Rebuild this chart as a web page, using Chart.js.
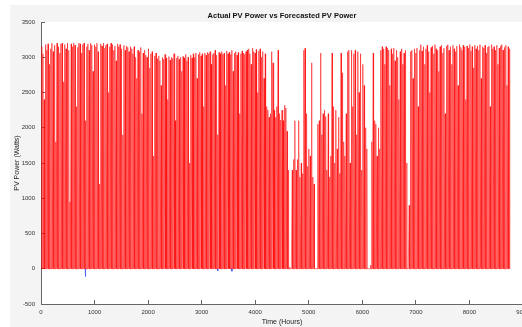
<!DOCTYPE html>
<html>
<head>
<meta charset="utf-8">
<script src="https://cdn.jsdelivr.net/npm/chart.js@4.4.1/dist/chart.umd.min.js"></script>
<style>
  html, body { margin: 0; padding: 0; background: #fff; overflow: hidden; width: 522px; height: 327px; }
  #wrap { position: absolute; left: 0; top: 0; width: 534px; height: 327px; }
</style>
</head>
<body>
<div id="wrap"><canvas id="myChart" width="534" height="327"></canvas></div>
<script>
// daily peak of actual PV power (W), one value per day
const dailyPeak = [
  3150, 3050, 2400, 3180, 3100, 3190, 2900, 3120, 3200, 3080,
  3170, 1800, 3200, 3150, 3060, 3190, 3200, 2650, 3180, 3120,
  3200, 3100, 950, 3190, 3150, 3200, 3170, 2300, 3140, 3200,
  3190, 3060, 3180, 3200, 2100, 3150, 3190, 3100, 3200, 3170,
  2800, 3180, 3150, 3200, 3080, 1200, 3190, 3160, 3200, 3130,
  3170, 3190, 2500, 3150, 3200, 3180, 3100, 3160, 2950, 3190,
  3150, 3180, 3120, 1900, 3170, 3100, 3160, 3140, 3080, 3150,
  3120, 3050, 3150, 3000, 2700, 3100, 3080, 3140, 2200, 3060,
  3100, 3030, 3000, 3120, 2850, 3050, 3080, 1600, 3020, 3060,
  2980, 3020, 2950, 2600, 3000, 2970, 3040, 2990, 2400, 3010,
  2960, 3000, 2980, 3050, 2100, 2990, 3020, 2970, 3000, 2800,
  3010, 2990, 3040, 2950, 3000, 1500, 3030, 2990, 3050, 3000,
  3060, 2700, 3040, 3070, 3020, 3050, 2300, 3060, 3030, 3070,
  3050, 3080, 2900, 3040, 3060, 3100, 3030, 1900, 3070, 3050,
  3080, 3040, 3060, 2600, 3090, 3050, 3070, 3040, 3100, 2800,
  3060, 3080, 3030, 3070, 2200, 3050, 3090, 3060, 3040, 3080,
  3100, 3120, 3050, 2900, 3130, 3080, 3060, 3110, 2500, 3090,
  3120, 3000, 3080, 2700, 3050,
  2300, 2250, 2150, 2200, 3080,
  2920, 2250, 2150, 2300, 3100,
  2200, 2110, 2250, 2100, 2320, 2280,
  1950, 1400, 20, 0, 1400,
  1550, 2100, 1400, 1550, 2100, 1300, 1500, 1350,
  3100, 3130, 2200, 1450, 1700, 1600, 2920,
  1300, 1200, 0, 0,
  2050, 2100, 3060, 1900,
  2200, 2250, 2160, 1400, 2200, 1300, 1600, 3060,
  2300, 1500, 2250, 1700, 2150, 1350,
  3060, 2780, 1800, 1600, 2200, 3080, 3100,
  1500, 3100, 2300, 3050, 3100, 1900, 3080, 2500, 3050, 1400, 2900, 2600,
  2000, 1700, 0, 0, 50, 1800,
  3060, 2100, 2050, 1600, 2000, 1700,
  3100, 3150, 3120, 2900, 3150, 3130, 3100, 2600, 3120,
  3050, 3130, 2950, 3100, 3000, 2400, 3080, 3120, 2900, 3060, 3100, 1500,
  0, 900,
  3080, 3100, 2700, 3120, 3060, 3130, 2300, 3100, 3180, 3090,
  3150, 2900, 3120, 3170, 3080, 2500, 3140, 3160, 3050, 3180,
  3120, 3100, 2800, 3150, 3170, 3060, 3130, 2200, 3160, 3180,
  3100, 3150, 2900, 3170, 3120, 3080, 3160, 2600, 3180, 3140,
  3100, 3170, 3150, 2400, 3160, 3130, 3180, 3090, 3150, 2850,
  3170, 3120, 3160, 3100, 3180, 2700, 3150, 3130, 3170, 3060,
  3140, 3160, 2300, 3180, 3120, 3150, 3100, 3170, 2900, 3130,
  3160, 3180, 3100, 3140, 3170, 2600, 3150, 3120
];

// forecast values that show below zero (hour, watts)
const forecastDips = [[830, -110], [3300, -30], [3565, -35]];

const yTicks = [-500, 0, 500, 1000, 1500, 2000, 2500, 3000, 3500];
const xTicks = [0, 1000, 2000, 3000, 4000, 5000, 6000, 7000, 8000, 9000];

// each day: dark at night, peak around noon
const actual = [];
dailyPeak.forEach(function (p, d) {
  actual.push({ x: d * 24 + 6, y: 0 }, { x: d * 24 + 12, y: p }, { x: d * 24 + 18, y: 0 });
});

const forecast = [];
forecastDips.forEach(function (f) {
  forecast.push({ x: f[0] - 5, y: 0 }, { x: f[0], y: f[1] }, { x: f[0] + 5, y: 0 }, { x: f[0] + 6, y: null });
});

const figureBg = {
  id: 'figureBg',
  beforeDraw: function (chart) {
    const c = chart.ctx, a = chart.chartArea;
    c.save();
    c.fillStyle = '#ffffff';
    c.fillRect(0, 0, chart.width, chart.height);
    c.fillStyle = '#f4f4f4';
    c.fillRect(10, 5, chart.width - 10, chart.height - 5);
    c.fillStyle = '#ffffff';
    c.fillRect(a.left, a.top, a.right - a.left, a.bottom - a.top);
    c.restore();
  }
};

function noPad(s) {
  s.paddingLeft = 0;
  s.paddingRight = 0;
  s.paddingTop = 0;
  s.paddingBottom = 0;
}

const ctx = document.getElementById('myChart').getContext('2d');
const myChart = new Chart(ctx, {
  type: 'line',
  data: {
    datasets: [{
      label: 'Actual PV Power',
      data: actual,
      borderColor: 'rgba(255, 0, 0, 0.75)',
      borderWidth: 0.7,
      pointRadius: 0,
      tension: 0
    }, {
      label: 'Forecasted PV Power',
      data: forecast,
      borderColor: 'rgba(60, 90, 255, 1)',
      borderWidth: 0.8,
      pointRadius: 0,
      tension: 0,
      spanGaps: false
    }]
  },
  options: {
    responsive: false,
    animation: false,
    parsing: false,
    layout: { padding: { left: 0, right: 11, top: 0, bottom: 0 } },
    plugins: {
      legend: { display: false },
      tooltip: { enabled: false },
      title: {
        display: true,
        fullSize: false,
        text: 'Actual PV Power vs Forecasted PV Power',
        color: '#111',
        font: { family: 'Liberation Sans', size: 7.5, weight: 'bold', lineHeight: 1 },
        padding: { top: 12.5, bottom: 2 }
      }
    },
    scales: {
      x: {
        type: 'linear',
        min: 0,
        max: 9000,
        afterBuildTicks: function (s) { s.ticks = xTicks.map(function (v) { return { value: v }; }); },
        afterFit: function (s) { s.height = 23; noPad(s); },
        border: { display: true, color: '#666', width: 1 },
        grid: { drawOnChartArea: false, tickLength: -4, color: '#666' },
        ticks: {
          padding: 9, color: '#333', maxRotation: 0, autoSkip: false,
          font: { family: 'Liberation Sans', size: 6 },
          callback: function (v) { return String(v); }
        },
        title: {
          display: true,
          text: 'Time (Hours)',
          color: '#222',
          font: { family: 'Liberation Sans', size: 7, lineHeight: 1 },
          padding: { top: 0, bottom: 1 }
        }
      },
      y: {
        min: -500,
        max: 3500,
        afterBuildTicks: function (s) { s.ticks = yTicks.map(function (v) { return { value: v }; }); },
        afterFit: function (s) { s.width = 41; noPad(s); },
        border: { display: true, color: '#666', width: 1 },
        grid: { drawOnChartArea: false, tickLength: -4, color: '#666' },
        ticks: {
          padding: 10, color: '#333', autoSkip: false,
          font: { family: 'Liberation Sans', size: 6 },
          callback: function (v) { return String(v); }
        },
        title: {
          display: true,
          text: 'PV Power (Watts)',
          color: '#222',
          font: { family: 'Liberation Sans', size: 7, lineHeight: 1 },
          padding: { top: 13.5, bottom: 0 }
        }
      }
    }
  },
  plugins: [figureBg]
});
</script>
</body>
</html>
